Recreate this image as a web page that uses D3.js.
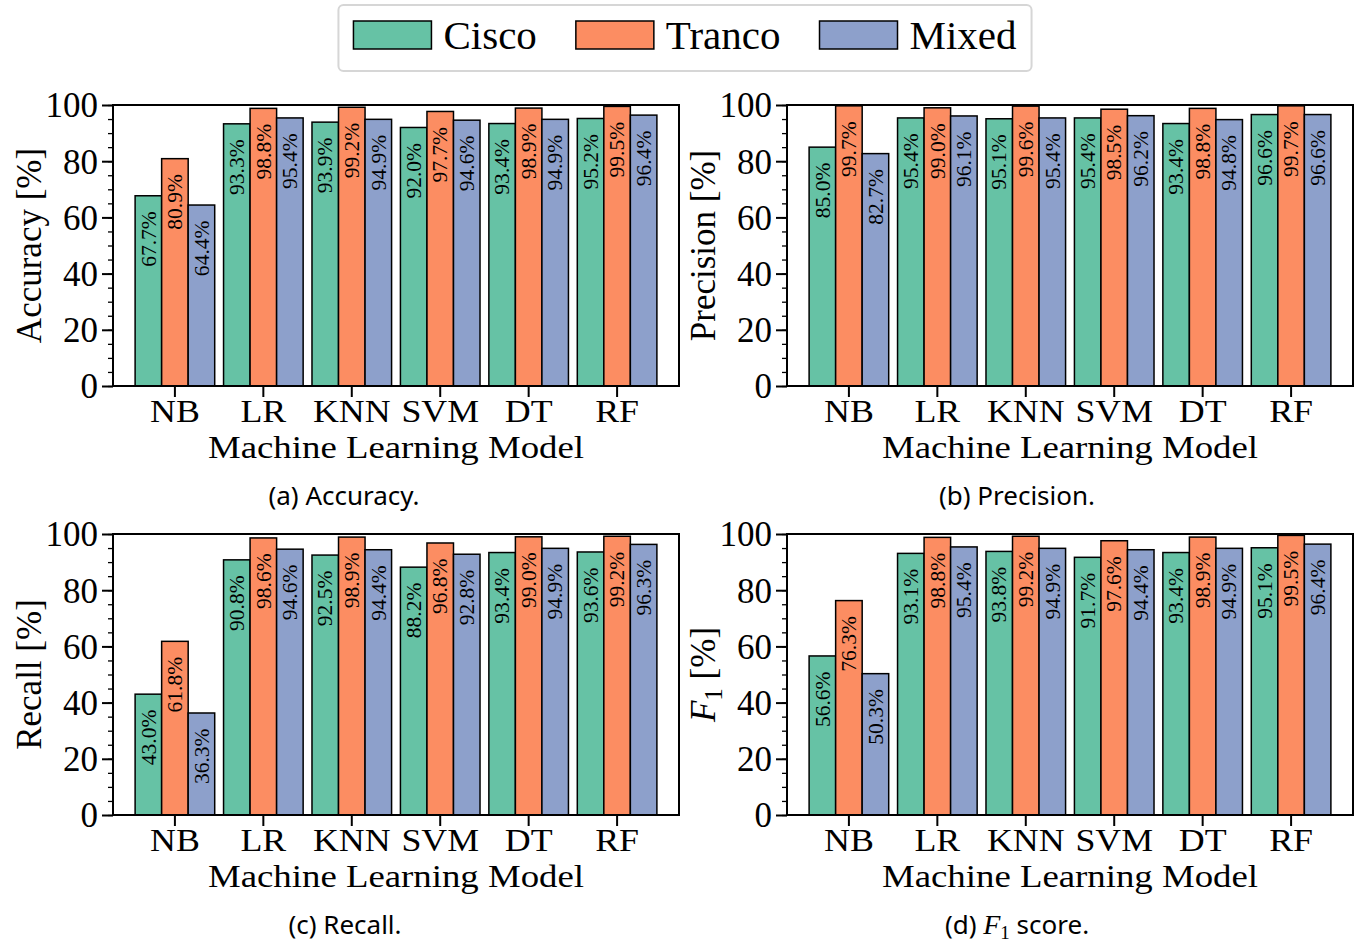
<!DOCTYPE html>
<html>
<head>
<meta charset="utf-8">
<script src="https://cdn.jsdelivr.net/npm/d3@7"></script>
<style>
  html, body { margin: 0; padding: 0; background: #fff; }
  svg { display: block; }
</style>
</head>
<body>
<svg id="chart" width="1363" height="942"></svg>
<script>
// ---------------- data ----------------
const categories = ["NB", "LR", "KNN", "SVM", "DT", "RF"];
const seriesNames = ["Cisco", "Tranco", "Mixed"];
const seriesColors = ["#66c2a5", "#fc8d62", "#8da0cb"];
const yTicks = [0, 20, 40, 60, 80, 100];

const accuracyCisco  = [67.7, 93.3, 93.9, 92.0, 93.4, 95.2];
const accuracyTranco = [80.9, 98.8, 99.2, 97.7, 98.9, 99.5];
const accuracyMixed  = [64.4, 95.4, 94.9, 94.6, 94.9, 96.4];

const precisionCisco  = [85.0, 95.4, 95.1, 95.4, 93.4, 96.6];
const precisionTranco = [99.7, 99.0, 99.6, 98.5, 98.8, 99.7];
const precisionMixed  = [82.7, 96.1, 95.4, 96.2, 94.8, 96.6];

const recallCisco  = [43.0, 90.8, 92.5, 88.2, 93.4, 93.6];
const recallTranco = [61.8, 98.6, 98.9, 96.8, 99.0, 99.2];
const recallMixed  = [36.3, 94.6, 94.4, 92.8, 94.9, 96.3];

const f1Cisco  = [56.6, 93.1, 93.8, 91.7, 93.4, 95.1];
const f1Tranco = [76.3, 98.8, 99.2, 97.6, 98.9, 99.5];
const f1Mixed  = [50.3, 95.4, 94.9, 94.4, 94.9, 96.4];

const xLabel = "Machine Learning Model";

// ---------------- layout ----------------
const serif = "'Liberation Serif', 'Times New Roman', serif";
const sans = "'Noto Sans', 'Open Sans', sans-serif";
const W = 566, H = 281;

const panels = [
  { id: "a", left: 113, top: 105, ylabel: "Accuracy [%]", caption: "(a) Accuracy.", capX: 344,
    series: [accuracyCisco, accuracyTranco, accuracyMixed] },
  { id: "b", left: 787, top: 105, ylabel: "Precision [%]", caption: "(b) Precision.", capX: 1017,
    series: [precisionCisco, precisionTranco, precisionMixed] },
  { id: "c", left: 113, top: 534, ylabel: "Recall [%]", caption: "(c) Recall.", capX: 345,
    series: [recallCisco, recallTranco, recallMixed] },
  { id: "d", left: 787, top: 534, ylabel: "F1", caption: "F1", capX: 1017,
    series: [f1Cisco, f1Tranco, f1Mixed] }
];

function stretch(sel, k) {
  sel.each(function () {
    const w = this.getComputedTextLength();
    d3.select(this).attr("textLength", w * k).attr("lengthAdjust", "spacingAndGlyphs");
  });
}

const svg = d3.select("#chart");
svg.append("rect").attr("width", 1363).attr("height", 942).attr("fill", "#fff");

const x0 = d3.scaleBand().domain(categories).range([0, W]).paddingInner(0.1).paddingOuter(0.25);
const x1 = d3.scaleBand().domain(seriesNames).range([0, x0.bandwidth()]).padding(0);
const y = d3.scaleLinear().domain([0, 100]).range([H, 0]);
const color = d3.scaleOrdinal().domain(seriesNames).range(seriesColors);

panels.forEach(p => {
  const g = svg.append("g").attr("transform", `translate(${p.left},${p.top})`);

  const rows = [];
  categories.forEach((c, i) => {
    seriesNames.forEach((s, j) => rows.push({ cat: c, series: s, value: p.series[j][i] }));
  });

  g.selectAll("rect.bar").data(rows).join("rect")
    .attr("class", "bar")
    .attr("x", d => x0(d.cat) + x1(d.series))
    .attr("y", d => y(d.value))
    .attr("width", x1.bandwidth())
    .attr("height", d => y(0) - y(d.value))
    .attr("fill", d => color(d.series))
    .attr("stroke", "#000")
    .attr("stroke-width", 1.5);

  const vals = g.selectAll("text.val").data(rows).join("text")
    .attr("class", "val")
    .attr("transform", d => `translate(${x0(d.cat) + x1(d.series) + x1.bandwidth() / 2},${y(d.value) + 15.5}) rotate(-90)`)
    .attr("text-anchor", "end")
    .attr("dy", "0.35em")
    .attr("font-family", serif)
    .attr("font-size", 20.5)
    .attr("fill", "#000")
    .text(d => d.value.toFixed(1) + "%");
  stretch(vals, 1.05);

  // y axis minor
  const yMinor = g.append("g").call(d3.axisLeft(y).tickValues(d3.range(0, 101, 5)).tickSize(5).tickFormat(""));
  yMinor.select(".domain").remove();
  yMinor.selectAll("line").attr("stroke", "#000").attr("stroke-width", 1.3);

  // y axis major
  const yAxis = g.append("g").call(d3.axisLeft(y).tickValues(yTicks).tickSize(11).tickPadding(4));
  yAxis.select(".domain").remove();
  yAxis.selectAll("line").attr("stroke", "#000").attr("stroke-width", 2);
  yAxis.selectAll("text").attr("font-family", serif).attr("font-size", 35).attr("fill", "#000")
    .attr("dy", "0.34em");

  // x axis
  const xAxis = g.append("g").attr("transform", `translate(0,${H})`)
    .call(d3.axisBottom(x0).tickSize(11));
  xAxis.select(".domain").remove();
  xAxis.selectAll("line").attr("stroke", "#000").attr("stroke-width", 2);
  const xt = xAxis.selectAll("text").attr("font-family", serif).attr("font-size", 32).attr("fill", "#000")
    .attr("y", 36).attr("dy", 0);
  stretch(xt, 1.12);

  // frame
  g.append("rect").attr("x", 0).attr("y", 0).attr("width", W).attr("height", H)
    .attr("fill", "none").attr("stroke", "#000").attr("stroke-width", 2);

  // x label
  const xl = g.append("text").attr("x", W / 2).attr("y", H + 72).attr("text-anchor", "middle")
    .attr("font-family", serif).attr("font-size", 32).attr("fill", "#000").text(xLabel);
  stretch(xl, 1.15);

  // y label
  const yl = g.append("text")
    .attr("transform", `translate(-72,${H / 2}) rotate(-90)`)
    .attr("text-anchor", "middle")
    .attr("font-family", serif).attr("font-size", 35).attr("fill", "#000");
  if (p.ylabel === "F1") {
    yl.append("tspan").attr("font-style", "italic").text("F");
    yl.append("tspan").attr("font-size", 25).attr("dy", 7).text("1");
    yl.append("tspan").attr("dy", -7).text("\u00a0[%]");
  } else {
    yl.text(p.ylabel);
  }

  // caption
  const cap = svg.append("text").attr("x", p.capX).attr("y", p.top + H + 119)
    .attr("text-anchor", "middle").attr("font-family", sans).attr("font-size", 26).attr("fill", "#000");
  if (p.caption === "F1") {
    cap.append("tspan").text("(d) ");
    cap.append("tspan").attr("font-family", serif).attr("font-style", "italic").attr("font-size", 28).text("F");
    cap.append("tspan").attr("font-family", serif).attr("font-size", 19).attr("dy", 5).text("1");
    cap.append("tspan").attr("dy", -5).text(" score.");
  } else {
    cap.text(p.caption);
  }
});

// ---------------- legend ----------------
const legend = svg.append("g");
const box = legend.append("rect");
let cx = 0;
const items = legend.selectAll("g.item").data(seriesNames).join("g").attr("class", "item");
items.each(function (s) {
  const it = d3.select(this);
  it.append("rect").attr("x", cx).attr("y", 21).attr("width", 78).attr("height", 28)
    .attr("fill", color(s)).attr("stroke", "#000").attr("stroke-width", 1.5);
  const t = it.append("text").attr("x", cx + 90).attr("y", 49)
    .attr("font-family", serif).attr("font-size", 41).attr("fill", "#000").text(s);
  const w = t.node().getComputedTextLength();
  cx = cx + 90 + w + 39;
});
const totalW = cx - 39;
const lx = 685 - totalW / 2;
items.attr("transform", `translate(${lx},0)`);
box.attr("x", lx - 15).attr("y", 5).attr("width", totalW + 30).attr("height", 66)
  .attr("rx", 5).attr("fill", "#fff").attr("stroke", "#d6d6d6").attr("stroke-width", 2);
</script>
</body>
</html>
